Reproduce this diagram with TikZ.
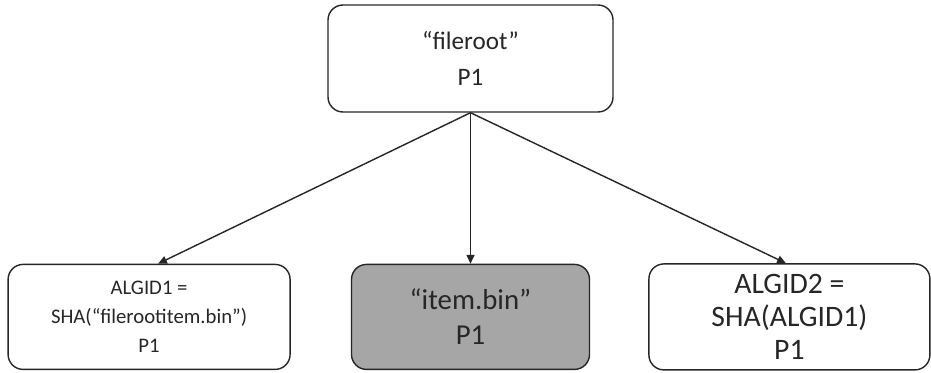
\documentclass[tikz,border=0pt]{standalone}
\usepackage{fontspec}
\setmainfont{Carlito}
\usetikzlibrary{positioning}
\usetikzlibrary{arrows.meta}

\begin{document}
\begin{tikzpicture}[box/.style={draw=black!85,line width=0.8pt,rounded corners=0.3cm,align=center,inner sep=0pt,text=black!85},
  link/.style={draw=black!85,line width=0.8pt,-{Triangle[length=5pt,width=4.5pt]}}]
\useasboundingbox (0,0) rectangle (18.62,-7.44);
\node[box,minimum width=5.7cm,minimum height=2.14cm,font=\fontsize{14.3}{20.4}\selectfont](root) at (9.41,-1.17){“fileroot”\\P1};
\node[box,fill=black!35,minimum width=4.76cm,minimum height=2.1cm,font=\fontsize{16.4}{19.8}\selectfont, below = 3.02cm of root](item){“item.bin”\\P1};
\node[box,minimum width=5.64cm,minimum height=2.1cm,font=\fontsize{11.8}{16.4}\selectfont, left = 1.2cm of item](algone){ALGID1 =\\SHA(“filerootitem.bin”)\\P1};
\node[box,minimum width=5.62cm,minimum height=2.12cm,font=\fontsize{16.9}{18.7}\selectfont, right = 1.16cm of item](algtwo){ALGID2 =\\SHA(ALGID1)\\P1};
\path[link] (root.south) -- ([xshift=0.18cm]algone.north);
\path[link] (root.south) -- (item.north);
\path[link] (root.south) -- ([xshift=-0.07cm]algtwo.north);
\end{tikzpicture}
\end{document}
